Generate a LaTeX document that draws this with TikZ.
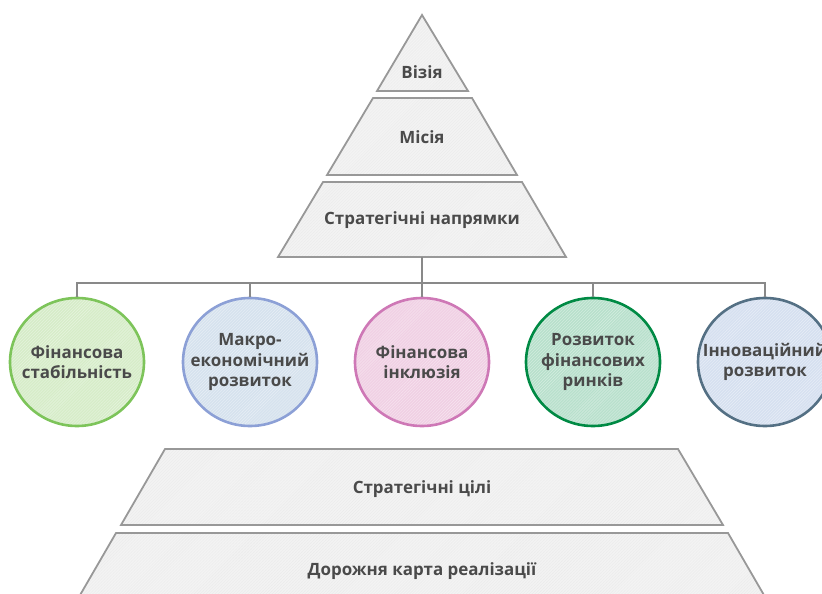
\documentclass[tikz,border=0pt]{standalone}
\usepackage{fontspec}
\setmainfont{Open Sans}
\usetikzlibrary{shapes.geometric,patterns,positioning}
\definecolor{txt}{RGB}{74,74,74}
\definecolor{edge}{RGB}{152,152,152}
\definecolor{layer}{RGB}{243,243,243}
\definecolor{fgreen}{RGB}{214,236,200}\definecolor{dgreen}{RGB}{125,196,90}
\definecolor{fblue}{RGB}{214,226,238}\definecolor{dblue}{RGB}{140,160,214}
\definecolor{fpink}{RGB}{240,208,228}\definecolor{dpink}{RGB}{206,120,182}
\definecolor{fmint}{RGB}{184,224,204}\definecolor{dmint}{RGB}{0,138,68}
\definecolor{fslate}{RGB}{214,224,240}\definecolor{dslate}{RGB}{84,112,132}
\tikzset{
  level/.style={draw=edge,line width=1.8bp,preaction={fill=layer},
    pattern=north east lines,pattern color=black!8},
  lvltext/.style={font=\bfseries\fontsize{17}{20}\selectfont,text=txt},
  goal/.style={ellipse,line width=2.6bp,minimum width=134bp,minimum height=128bp,inner sep=0pt,
    preaction={fill=#1},pattern=north east lines,pattern color=#1!55!white},
  goaltext/.style={align=center,text=txt,font=\bfseries\fontsize{17}{20.5}\selectfont},
  link/.style={draw=edge!90!black,line width=1.6bp}
}
\begin{document}
\begin{tikzpicture}[x=1bp,y=-1bp]
        \useasboundingbox (0,0) rectangle (822,594);
        \clip (0,0) rectangle (822,594);
        % upper pyramid
        \path[level] (422,15) -- (468,91) -- (377,91) -- cycle;
        \node[lvltext] (vision) at (422,72) {Візія};
        \path[level] (373,98) -- (472,98) -- (517,175) -- (327,175) -- cycle;
        \node[lvltext] (mission) at (422,137) {Місія};
        \path[level] (323,182) -- (522,182) -- (566,257) -- (278,257) -- cycle;
        \node[lvltext] (dirs) at (422,220) {Стратегічні напрямки};
        \coordinate (base) at (422,257);
        \coordinate (bar) at (422,283);
        % directions
        \node (c1) at (77,362) [goal=fgreen,draw=dgreen] {};
        \node (c2) at (250,362) [goal=fblue,draw=dblue] {};
        \node (c3) at (422,362) [goal=fpink,draw=dpink] {};
        \node (c4) at (593,362) [goal=fmint,draw=dmint] {};
        \node (c5) at (765,362) [goal=fslate,draw=dslate] {};
        \node[goaltext] (t1) at (c1) {Фінансова\\стабільність};
        \node[goaltext] (t2) at (c2) {Макро-\\економічний\\розвиток};
        \node[goaltext] (t3) at (c3) {Фінансова\\інклюзія};
        \node[goaltext] (t4) at (c4) {Розвиток\\фінансових\\ринків};
        \node[goaltext] (t5) at (c5) {Інноваційний\\розвиток};
        \draw[link] (base) -- (bar);
        \draw[link] (bar) -| (c1.north);
        \draw[link] (bar) -| (c2.north);
        \draw[link] (bar) -- (c3.north);
        \draw[link] (bar) -| (c4.north);
        \draw[link] (bar) -| (c5.north);
        % lower layers
        \path[level] (165,449) -- (678,449) -- (723,525) -- (121,525) -- cycle;
        \node[lvltext] (goals) at (422,489) {Стратегічні цілі};
        \path[level] (116,533) -- (728,533) -- (790,640) -- (54,640) -- cycle;
        \node[lvltext] (roadmap) at (422,571) {Дорожня карта реалізації};
    \end{tikzpicture}
\end{document}
